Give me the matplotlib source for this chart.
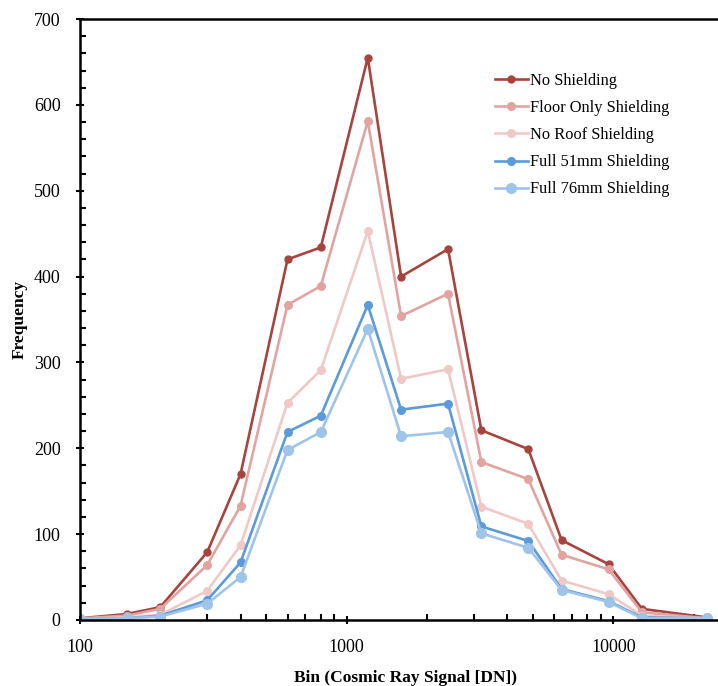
import matplotlib
matplotlib.use("Agg")
import matplotlib.pyplot as plt
from matplotlib.ticker import MultipleLocator, LogLocator, NullFormatter, FixedLocator, FixedFormatter

bins = [100, 150, 200, 300, 400, 600, 800, 1200, 1600, 2400, 3200, 4800, 6400, 9600, 12800, 22400]

no_shielding = [2, 7, 15, 79, 170, 420, 434, 655, 400, 432, 221, 199, 93, 65, 13, 3]
floor_only = [2, 5, 13, 64, 133, 367, 389, 581, 354, 380, 184, 164, 76, 59, 9, 2]
no_roof = [1, 3, 6, 34, 87, 253, 291, 453, 281, 292, 132, 112, 46, 30, 5, 2]
full_51mm = [1, 2, 5, 23, 67, 219, 238, 367, 245, 252, 109, 92, 36, 22, 3, 2]
full_76mm = [1, 2, 4, 19, 50, 198, 219, 339, 214, 219, 101, 84, 35, 21, 2, 2]

series = [
    ("No Shielding", no_shielding, "#A8443E", 5),
    ("Floor Only Shielding", floor_only, "#E2A4A1", 5.5),
    ("No Roof Shielding", no_roof, "#F0C9C6", 5.5),
    ("Full 51mm Shielding", full_51mm, "#5B9BDA", 5.5),
    ("Full 76mm Shielding", full_76mm, "#9FC4EA", 7),
]

serif = ["Liberation Serif", "DejaVu Serif"]
plt.rcParams["font.family"] = serif

fig = plt.figure(figsize=(7.18, 6.86), dpi=100)
ax = fig.add_axes([80 / 718, 66 / 686, 1 - 80 / 718, (620 - 19) / 686])

for name, vals, col, ms in series:
    ax.plot(bins, vals, color=col, lw=1.9, marker="o", ms=ms, label=name)

ax.set_xscale("log")
ax.set_xlim(100, 10 ** (4 + (718 - 613.3) / 266.7))
ax.set_ylim(0, 700)

ax.yaxis.set_major_locator(MultipleLocator(100))
ax.yaxis.set_minor_locator(MultipleLocator(20))
ax.xaxis.set_major_locator(FixedLocator([100, 1000, 10000]))
ax.xaxis.set_major_formatter(FixedFormatter(["100", "1000", "10000"]))
ax.xaxis.set_minor_locator(LogLocator(base=10, subs=range(2, 10)))
ax.xaxis.set_minor_formatter(NullFormatter())

ax.tick_params(axis="both", which="major", direction="inout", length=6, width=1.5,
               labelsize=13, color="black")
ax.tick_params(axis="both", which="minor", direction="in", length=4, width=1.5)
ax.tick_params(axis="y", which="major", pad=11)
ax.tick_params(axis="x", which="major", pad=11)

for s in ["left", "bottom", "top"]:
    ax.spines[s].set_linewidth(1.8)
ax.spines["right"].set_visible(False)

ax.set_xlabel("Bin (Cosmic Ray Signal [DN])", fontsize=12.5, fontweight="bold")
ax.set_ylabel("Frequency", fontsize=12.5, fontweight="bold")
ax.xaxis.set_label_coords(0.51, -0.083)
ax.yaxis.set_label_coords(-0.082, 0.5)

leg = ax.legend(loc="upper left", bbox_to_anchor=(0.627, 0.935), frameon=False,
                fontsize=11.8, handlelength=2.0, handletextpad=0.15, labelspacing=0.68)

fig.savefig("out.png", dpi=100)
